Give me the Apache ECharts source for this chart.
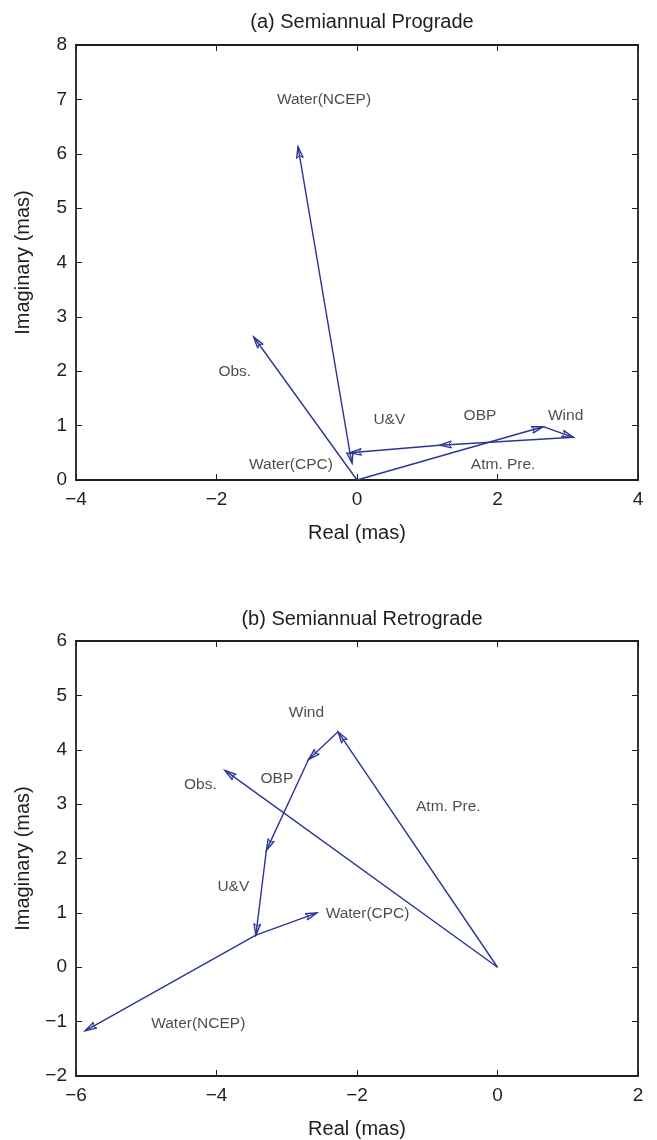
<!DOCTYPE html>
<html>
<head>
<meta charset="utf-8">
<script src="https://cdn.jsdelivr.net/npm/echarts@6/dist/echarts.min.js"></script>
<style>
  html, body { margin: 0; padding: 0; background: #fff; }
  #main { width: 657px; height: 1140px; }
</style>
</head>
<body>
<div id="main"></div>
<script>
// vector components, [xStart, yStart, xEnd, yEnd] in mas
const arrowNames = ['Atm. Pre.', 'Wind', 'OBP', 'U&V', 'Water(CPC)', 'Water(NCEP)', 'Obs.'];

const progradeArrows = [
  [0, 0, 2.65, 0.98],
  [2.65, 0.98, 3.08, 0.785],
  [3.08, 0.785, 1.18, 0.64],
  [1.18, 0.64, -0.1, 0.5],
  [-0.1, 0.5, -0.07, 0.31],
  [-0.1, 0.5, -0.84, 6.13],
  [0, 0, -1.47, 2.63]
];
const retrogradeArrows = [
  [0, 0, -2.27, 4.33],
  [-2.27, 4.33, -2.69, 3.82],
  [-2.69, 3.82, -3.29, 2.15],
  [-3.29, 2.15, -3.44, 0.59],
  [-3.44, 0.59, -2.57, 1.0],
  [-3.44, 0.59, -5.87, -1.17],
  [0, 0, -3.88, 3.62]
];

// where the text labels sit (data coordinates)
const progradeLabels = [
  [2.08, 0.29], [2.97, 1.19], [1.75, 1.19], [0.46, 1.10],
  [-0.94, 0.29], [-0.47, 7.0], [-1.74, 1.99]
];
const retrogradeLabels = [
  [-0.70, 2.96], [-2.72, 4.68], [-3.14, 3.47], [-3.76, 1.48],
  [-1.85, 0.99], [-4.26, -1.03], [-4.23, 3.36]
];

const progradeX = [-4, 4], progradeY = [0, 8];
const retrogradeX = [-6, 2], retrogradeY = [-2, 6];
const tickStep = 2, yTickStep = 1;

const FONT = 'Liberation Sans';
const INK = '#1e1e1e';
const BLUE = '#2a3596';

const chart = echarts.init(document.getElementById('main'));

function minus(v) { return String(v).replace('-', '\u2212'); }

function axisBase(showLabel) {
  return {
    axisLine: { show: true, onZero: false, lineStyle: { color: INK, width: 1.8 } },
    axisTick: { show: true, inside: true, length: 6, lineStyle: { color: INK, width: 1 } },
    axisLabel: { show: showLabel, color: INK, fontSize: 19, fontFamily: FONT, formatter: minus },
    splitLine: { show: false }
  };
}

function xAxes(grid, range) {
  const b = Object.assign(axisBase(true), {
    type: 'value', gridIndex: grid, position: 'bottom', min: range[0], max: range[1], interval: tickStep,
    name: 'Real (mas)', nameLocation: 'middle', nameGap: 43,
    nameTextStyle: { color: INK, fontSize: 20, fontFamily: FONT }
  });
  b.axisLabel.margin = 10;
  const t = Object.assign(axisBase(false), {
    type: 'value', gridIndex: grid, position: 'top', min: range[0], max: range[1], interval: tickStep
  });
  return [b, t];
}

function yAxes(grid, range) {
  const l = Object.assign(axisBase(true), {
    type: 'value', gridIndex: grid, position: 'left', min: range[0], max: range[1], interval: yTickStep,
    name: 'Imaginary (mas)', nameLocation: 'middle', nameGap: 43,
    nameTextStyle: { color: INK, fontSize: 20, fontFamily: FONT }
  });
  l.axisLabel.margin = 9;
  const r = Object.assign(axisBase(false), {
    type: 'value', gridIndex: grid, position: 'right', min: range[0], max: range[1], interval: yTickStep
  });
  return [l, r];
}

function renderArrow(params, api) {
  const p0 = api.coord([api.value(0), api.value(1)]);
  const p1 = api.coord([api.value(2), api.value(3)]);
  const ang = Math.atan2(p1[1] - p0[1], p1[0] - p0[0]);
  const L = 12, a = 0.28;
  const h1 = [p1[0] - L * Math.cos(ang - a), p1[1] - L * Math.sin(ang - a)];
  const h2 = [p1[0] - L * Math.cos(ang + a), p1[1] - L * Math.sin(ang + a)];
  const hm = [p1[0] - L * 0.75 * Math.cos(ang), p1[1] - L * 0.75 * Math.sin(ang)];
  return {
    type: 'group',
    children: [
      { type: 'line', shape: { x1: p0[0], y1: p0[1], x2: p1[0], y2: p1[1] },
        style: { stroke: BLUE, lineWidth: 1.4 } },
      { type: 'polyline', shape: { points: [h1, p1, h2] },
        style: { stroke: BLUE, lineWidth: 1.4, fill: null } },
      { type: 'polyline', shape: { points: [h1, hm, h2] },
        style: { stroke: BLUE, lineWidth: 1, fill: null } }
    ]
  };
}

function arrowSeries(axisIdx, arrows) {
  return {
    type: 'custom', xAxisIndex: axisIdx, yAxisIndex: axisIdx,
    renderItem: renderArrow, clip: false, silent: true,
    encode: { x: [0, 2], y: [1, 3] },
    data: arrows
  };
}

function labelSeries(axisIdx, pos) {
  return {
    type: 'scatter', xAxisIndex: axisIdx, yAxisIndex: axisIdx, symbolSize: 0, silent: true,
    data: pos.map((p, i) => ({ value: p, name: arrowNames[i] })),
    label: {
      show: true, position: 'inside', formatter: '{b}',
      color: INK, fontSize: 15.5, fontFamily: FONT,
      textBorderWidth: 0, textBorderColor: 'transparent'
    }
  };
}

const option = {
  backgroundColor: '#fff',
  animation: false,
  title: [
    { text: '(a) Semiannual Prograde', left: 357, top: 7, textAlign: 'center',
      textStyle: { color: INK, fontSize: 20, fontWeight: 'normal', fontFamily: FONT } },
    { text: '(b) Semiannual Retrograde', left: 357, top: 604, textAlign: 'center',
      textStyle: { color: INK, fontSize: 20, fontWeight: 'normal', fontFamily: FONT } }
  ],
  grid: [
    { left: 76, right: 19, top: 45, height: 435 },
    { left: 76, right: 19, top: 641, height: 435 }
  ],
  xAxis: [...xAxes(0, progradeX), ...xAxes(1, retrogradeX)],
  yAxis: [...yAxes(0, progradeY), ...yAxes(1, retrogradeY)],
  series: [
    arrowSeries(0, progradeArrows),
    labelSeries(0, progradeLabels),
    arrowSeries(2, retrogradeArrows),
    labelSeries(2, retrogradeLabels)
  ]
};

chart.setOption(option);
</script>
</body>
</html>
